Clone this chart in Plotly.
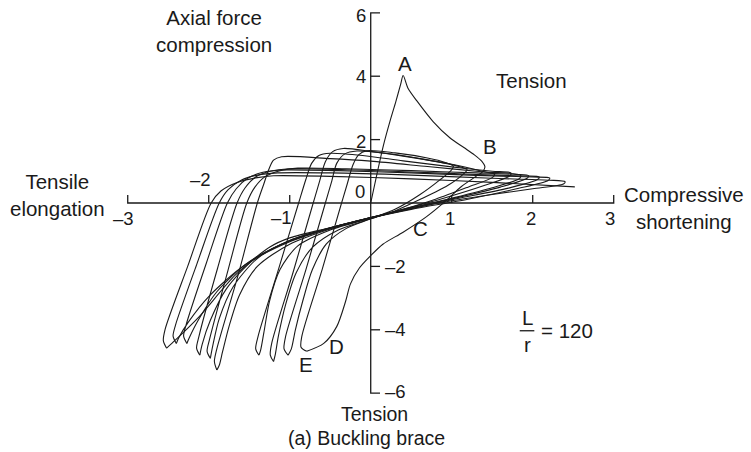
import plotly.graph_objects as go

# hysteresis path (x = shortening, y = axial force)
start_x = [0.0, 0.08, 0.16, 0.24, 0.31, 0.37, 0.40, 0.46, 0.57, 0.77, 0.98, 1.15, 1.28, 1.37, 1.41, 1.38, 1.30, 1.12,
           0.92, 0.69, 0.40, 0.15, 0.0, -0.14, -0.25, -0.31, -0.42, -0.58, -0.79]
start_y = [0.0, 0.95, 1.85, 2.6, 3.2, 3.75, 4.02, 3.62, 3.22, 2.57, 2.05, 1.75, 1.52, 1.32, 1.14, 0.98, 0.84, 0.52,
           0.05, -0.43, -0.92, -1.3, -1.66, -2.05, -2.55, -3.1, -3.9, -4.43, -4.68]

m1_x = [-0.79, -0.86, -0.85, -0.60, -0.36, -0.29, -0.22, -0.15, -0.05, 0.3, 0.7, 0.92, 1.02, 1.0, 0.85, 0.6, 0.3,
        0.0, -0.3, -0.55, -0.72, -0.84, -0.93, -0.98, -1.02]
m1_y = [-4.68, -4.55, -4.2, -2.1, 0.0, 0.6, 1.2, 1.52, 1.65, 1.58, 1.42, 1.28, 1.16, 1.05, 0.72, 0.25, -0.2,
        -0.5, -0.8, -1.3, -2.1, -3.1, -4.0, -4.6, -4.8]

m2_x = [-1.02, -1.07, -1.05, -0.80, -0.56, -0.48, -0.42, -0.32, -0.17, 0.2, 0.7, 1.05, 1.19, 1.16, 0.95, 0.6, 0.3,
        0.0, -0.4, -0.72, -0.92, -1.05, -1.14, -1.18, -1.2]
m2_y = [-4.8, -4.6, -4.2, -2.1, 0.0, 0.7, 1.25, 1.55, 1.64, 1.56, 1.36, 1.18, 1.05, 0.95, 0.55, 0.1, -0.25,
        -0.5, -0.85, -1.4, -2.2, -3.2, -4.2, -4.8, -5.0]

m3_x = [-1.2, -1.24, -1.22, -0.96, -0.71, -0.63, -0.56, -0.47, -0.34, 0.0, 0.5, 1.0, 1.35, 1.53, 1.5, 1.2, 0.8,
        0.4, 0.0, -0.5, -0.9, -1.12, -1.25, -1.32, -1.36, -1.38]
m3_y = [-5.0, -4.8, -4.4, -2.2, 0.0, 0.7, 1.3, 1.62, 1.72, 1.63, 1.44, 1.22, 1.02, 0.9, 0.8, 0.5, 0.12,
        -0.2, -0.48, -0.85, -1.35, -2.1, -3.1, -4.1, -4.65, -4.8]

m4_x = [-1.38, -1.42, -1.39, -1.14, -0.89, -0.8, -0.73, -0.64, -0.5, -0.1, 0.4, 1.0, 1.5, 1.73, 1.72, 1.4, 0.9,
        0.4, 0.0, -0.5, -1.0, -1.4, -1.62, -1.75, -1.83, -1.87, -1.9]
m4_y = [-4.8, -4.6, -4.2, -2.1, 0.0, 0.75, 1.25, 1.5, 1.57, 1.5, 1.33, 1.14, 1.0, 0.95, 0.86, 0.55, 0.15,
        -0.2, -0.47, -0.82, -1.3, -2.0, -2.9, -3.9, -4.7, -5.12, -5.27]

l1_x = [-1.9, -1.93, -1.9, -1.64, -1.40, -1.32, -1.26, -1.2, -1.1, -0.5, 0.0, 0.7, 1.4, 1.85, 1.84, 1.5, 1.0,
        0.5, 0.0, -0.5, -1.0, -1.4, -1.7, -1.87, -1.95, -1.98]
l1_y = [-5.27, -5.0, -4.6, -2.3, 0.0, 0.6, 1.05, 1.35, 1.46, 1.4, 1.32, 1.15, 0.98, 0.88, 0.78, 0.48, 0.15,
        -0.15, -0.46, -0.78, -1.18, -1.75, -2.65, -3.65, -4.5, -4.9]

l2_x = [-1.98, -2.02, -1.99, -1.76, -1.53, -1.43, -1.3, -1.12, -0.9, -0.3, 0.5, 1.3, 1.8, 1.95, 1.93, 1.6, 1.0,
        0.5, 0.0, -0.5, -1.0, -1.45, -1.78, -1.98, -2.08, -2.11]
l2_y = [-4.9, -4.68, -4.3, -2.1, 0.0, 0.5, 0.84, 1.02, 1.1, 1.08, 1.02, 0.95, 0.9, 0.86, 0.78, 0.5, 0.13,
        -0.16, -0.46, -0.78, -1.18, -1.8, -2.7, -3.7, -4.45, -4.8]

l3_x = [-2.11, -2.15, -2.12, -1.89, -1.65, -1.55, -1.42, -1.24, -1.0, -0.3, 0.5, 1.3, 1.9, 2.08, 2.06, 1.7, 1.0,
        0.5, 0.0, -0.5, -1.0, -1.5, -1.9, -2.13, -2.24, -2.27]
l3_y = [-4.8, -4.58, -4.2, -2.05, 0.0, 0.48, 0.82, 1.0, 1.08, 1.05, 0.98, 0.9, 0.85, 0.82, 0.74, 0.47, 0.1,
        -0.18, -0.46, -0.79, -1.2, -1.85, -2.8, -3.7, -4.25, -4.43]

l4_x = [-2.27, -2.31, -2.28, -2.03, -1.77, -1.66, -1.52, -1.33, -1.1, -0.4, 0.5, 1.3, 2.0, 2.21, 2.19, 1.8, 1.2,
        0.5, 0.0, -0.5, -1.0, -1.55, -2.0, -2.25, -2.37, -2.40]
l4_y = [-4.43, -4.2, -3.85, -1.9, 0.0, 0.45, 0.78, 0.97, 1.04, 1.02, 0.95, 0.87, 0.82, 0.79, 0.71, 0.45, 0.12,
        -0.2, -0.47, -0.8, -1.22, -1.95, -2.95, -3.75, -4.25, -4.43]

l5_x = [-2.40, -2.44, -2.41, -2.15, -1.87, -1.76, -1.6, -1.4, -1.15, -0.5, 0.5, 1.5, 2.2, 2.4, 2.38, 2.0, 1.5,
        1.0, 0.5, 0.0, -0.5, -1.0, -1.24, -1.67, -2.12, -2.41, -2.52]
l5_y = [-4.43, -4.2, -3.85, -1.95, 0.0, 0.42, 0.72, 0.88, 0.95, 0.95, 0.88, 0.78, 0.72, 0.67, 0.6, 0.45, 0.27,
        0.07, -0.18, -0.47, -0.78, -1.1, -1.38, -2.27, -3.59, -4.32, -4.58]

l6_x = [-2.52, -2.56, -2.54, -2.26, -1.97, -1.85, -1.65, -1.4, -1.2, -0.5, 0.5, 1.5, 2.52]
l6_y = [-4.58, -4.35, -4.0, -2.0, 0.0, 0.38, 0.65, 0.8, 0.86, 0.84, 0.76, 0.65, 0.51]

loops = [(start_x, start_y), (m1_x, m1_y), (m2_x, m2_y), (m3_x, m3_y), (m4_x, m4_y),
         (l1_x, l1_y), (l2_x, l2_y), (l3_x, l3_y), (l4_x, l4_y), (l5_x, l5_y), (l6_x, l6_y)]

x_ticks = [-2, -1, 1, 2]
y_ticks = [4, 2, -2, -4]
x_tick_text = ["–3", "–2", "–1", "1", "2", "3"]
y_tick_text = ["6", "4", "2", "0", "–2", "–4", "–6"]

INK = "#1a1a1a"
FONT = "Liberation Sans"

fig = go.Figure()

for lx, ly in loops:
    fig.add_trace(go.Scatter(x=lx, y=ly, mode="lines",
                             line=dict(color=INK, width=1.1, shape="spline", smoothing=0.8),
                             hoverinfo="skip", showlegend=False))

# axes drawn at the origin, with bracket ends
ax_x = [-3, -3, 3, 3, None]
ax_y = [0.25, 0, 0, 0.25, None]
for t in x_ticks:
    ax_x += [t, t, None]
    ax_y += [0, 0.25, None]
ax_x += [0.115, 0, 0, 0.115, None]
ax_y += [6, 6, -6, -6, None]
for t in y_ticks:
    ax_x += [0, 0.115, None]
    ax_y += [t, t, None]
fig.add_trace(go.Scatter(x=ax_x, y=ax_y, mode="lines", line=dict(color=INK, width=1.3),
                         hoverinfo="skip", showlegend=False))

def txt(x, y, s, size=20.5):
    fig.add_annotation(x=x, y=y, text=s, showarrow=False, xanchor="center", yanchor="middle",
                       font=dict(family=FONT, size=size, color=INK))

# tick labels
x_lab_pos = [(-3.05, -0.48), (-2.1, 0.75), (-1.1, -0.45), (0.98, -0.48), (1.98, -0.48), (2.95, -0.48)]
for (px, py), s in zip(x_lab_pos, x_tick_text):
    txt(px, py, s, 18.5)
y_lab_pos = [(-0.12, 5.93), (-0.12, 3.98), (-0.12, 1.95), (-0.13, 0.36), (0.3, -2.0), (0.3, -4.0), (0.3, -5.95)]
for (px, py), s in zip(y_lab_pos, y_tick_text):
    txt(px, py, s, 18.5)

# point labels
txt(0.42, 4.4, "A")
txt(1.47, 1.78, "B")
txt(0.61, -0.8, "C")
txt(-0.42, -4.53, "D")
txt(-0.8, -5.11, "E")

# axis captions
txt(-1.93, 5.43, "Axial force<br>compression")
txt(1.99, 3.88, "Tension")
txt(-3.87, 0.25, "Tensile<br>elongation")
txt(3.87, -0.16, "Compressive<br>shortening")
txt(0.05, -6.66, "Tension", 19.5)
txt(-0.05, -7.42, "(a) Buckling brace", 19.5)

# slenderness ratio
txt(1.93, -3.6, "L")
txt(1.93, -4.45, "r")
fig.add_trace(go.Scatter(x=[1.84, 2.02], y=[-4.03, -4.03], mode="lines", line=dict(color=INK, width=1.3),
                         hoverinfo="skip", showlegend=False))
txt(2.42, -4.03, "= 120")

fig.update_layout(
    width=751, height=452,
    margin=dict(l=0, r=0, t=0, b=0),
    paper_bgcolor="white", plot_bgcolor="white",
    xaxis=dict(visible=False, range=[-4.577, 4.695]),
    yaxis=dict(visible=False, range=[-7.855, 6.404]),
    showlegend=False,
)

fig.write_html("out.html", config={"displayModeBar": False},
               post_script="document.body.style.margin='0';")
